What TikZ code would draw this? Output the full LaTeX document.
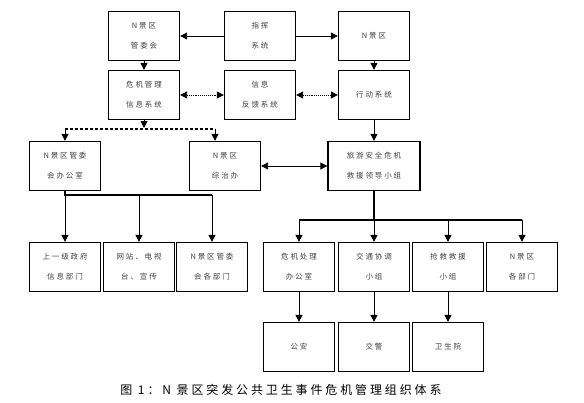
\documentclass[tikz,border=0pt]{standalone}
\usepackage{fontspec}
\usepackage{xcolor}
\usepackage{tikz}
\usetikzlibrary{arrows.meta, positioning}
\newfontfamily\cjk[LetterSpace=25]{Noto Sans CJK SC}
\newfontfamily\cjkcap[LetterSpace=24]{Noto Sans CJK SC}

\begin{document}
\begin{tikzpicture}[x=1pt, y=-1pt, node distance=59pt]
    % Define the styles
    \tikzstyle{block} = [rectangle, draw, line width=1.3pt, minimum width=71pt, minimum height=49pt, inner sep=0pt, align=center, text=black!75, font=\cjk\fontsize{7.5}{20}\selectfont]
    \tikzstyle{line} = [draw, line width=0.9pt, -{Triangle[length=7pt, width=7pt]}]
    \tikzstyle{both} = [line, {Triangle[length=7pt, width=7pt]}-{Triangle[length=7pt, width=7pt]}]
    \useasboundingbox (0,0) rectangle (584,402);

    % Top rows
    \node [block] (gwh) at (144,36) {N景区\\管委会};
    \node [block] (zhihui) at (260,36) {指挥\\系统};
    \node [block] (njq) at (374,36) {N景区};
    \node [block, below of=gwh] (weiji) {危机管理\\信息系统};
    \node [block, below of=zhihui] (fankui) {信息\\反馈系统};
    \node [block, below of=njq] (xingdong) {行动系统};

    % Third row
    \node [block, below of=xingdong, node distance=71pt, minimum width=92pt] (lvyou) {旅游安全危机\\救援领导小组};
    \node [block] (bgs) at (65,166) {N景区管委\\会办公室};
    \node [block] (zzb) at (225,166) {N景区\\综治办};

    % Fourth row
    \node [block] (shangji) at (65,267) {上一级政府\\信息部门};
    \node [block] (wangzhan) at (139,267) {网站、电视\\台、宣传};
    \node [block] (gebumen) at (212,267) {N景区管委\\会各部门};
    \node [block] (chuli) at (299,267) {危机处理\\办公室};
    \node [block, below of=lvyou, node distance=101pt] (jiaotong) {交通协调\\小组};
    \node [block] (qiangjiu) at (448,267) {抢救救援\\小组};
    \node [block] (jqbm) at (522,267) {N景区\\各部门};

    % Fifth row
    \node [block, below of=chuli, node distance=80pt] (gongan) {公安};
    \node [block, below of=jiaotong, node distance=80pt] (jiaojing) {交警};
    \node [block, below of=qiangjiu, node distance=80pt] (wsy) {卫生院};

    % Junction points
    \coordinate (wj) at (144,128);
    \coordinate (dl) at (65,129);
    \coordinate (dr) at (215,129);
    \coordinate (bl) at (65,195);
    \coordinate (br) at (212,195);
    \coordinate (lm) at (374,220);
    \coordinate (ll) at (299,220);
    \coordinate (lr) at (522,220);

    % Connect the nodes with paths
    \path [line] (zhihui) -- (gwh);
    \path [line] (zhihui) -- (njq);
    \path [line] (gwh) -- (weiji);
    \path [line] (njq) -- (xingdong);
    \path [both, densely dotted] (weiji) -- (fankui);
    \path [both, densely dotted] (fankui) -- (xingdong);
    \path [line] (weiji) -- (wj);
    \draw [line width=1.2pt, densely dashed] (dl) -- (dr);
    \path [line] (dl) -- (bgs);
    \path [line] (dr) -- (zzb.north -| dr);
    \path [line] (xingdong) -- (lvyou);
    \path [both] (zzb) -- (lvyou);
    \draw [line width=1.2pt] (bgs.south) -- (bl) -- (br);
    \path [line] (bl) -- (shangji);
    \path [line] (wangzhan |- bl) -- (wangzhan);
    \path [line] (br) -- (gebumen);
    \draw [line width=1.2pt] (lvyou) -- (lm) (ll) -- (lr);
    \path [line] (ll) -- (chuli);
    \path [line] (lm) -- (jiaotong);
    \path [line] (qiangjiu |- lm) -- (qiangjiu);
    \path [line] (lr) -- (jqbm);
    \path [line] (chuli) -- (gongan);
    \path [line] (jiaotong) -- (jiaojing);
    \path [line] (qiangjiu) -- (wsy);

    % Caption
    \node [font=\cjkcap\fontsize{12}{14}\selectfont] (caption) at (281,390) {图 1：N 景区突发公共卫生事件危机管理组织体系};
\end{tikzpicture}
\end{document}
